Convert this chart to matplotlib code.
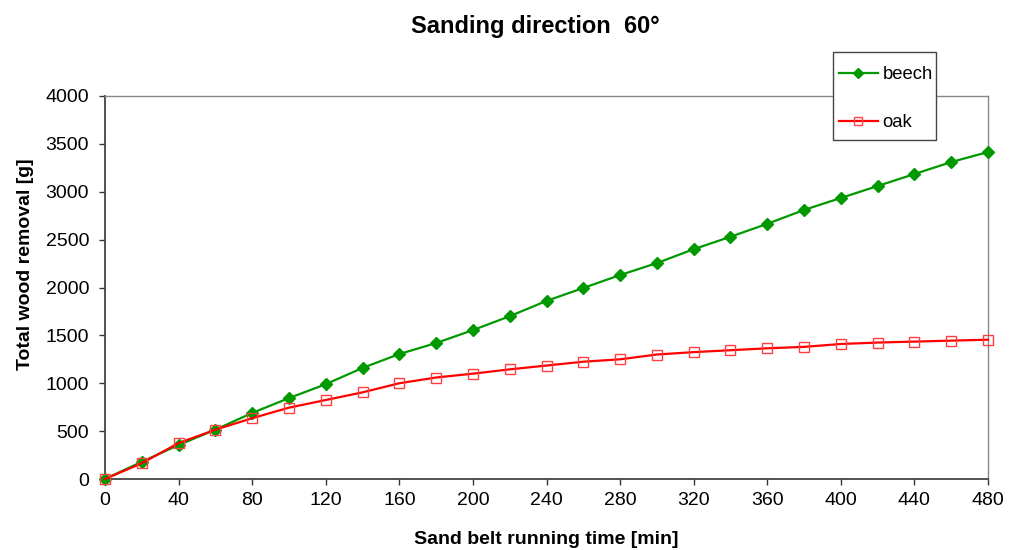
import matplotlib
matplotlib.use("Agg")
import matplotlib.pyplot as plt
from matplotlib.patches import Rectangle

time_min = [0, 20, 40, 60, 80, 100, 120, 140, 160, 180, 200, 220, 240, 260, 280, 300,
            320, 340, 360, 380, 400, 420, 440, 460, 480]
beech = [0, 180, 355, 515, 690, 845, 990, 1160, 1305, 1420, 1555, 1700, 1860, 1995, 2130,
         2255, 2400, 2530, 2665, 2810, 2935, 3060, 3185, 3310, 3415]
oak = [0, 165, 375, 515, 635, 745, 825, 905, 1000, 1060, 1100, 1145, 1185, 1225, 1250,
       1300, 1325, 1345, 1365, 1380, 1410, 1425, 1435, 1445, 1455]
x_ticks = list(range(0, 481, 40))
y_ticks = list(range(0, 4001, 500))

plt.rcParams['font.family'] = ['Liberation Sans', 'DejaVu Sans']

W, H = 1014, 550
fig = plt.figure(figsize=(W / 100, H / 100), dpi=100)
ax = fig.add_axes([105/W, 1-479/H, (988-105)/W, (479-96)/H])

l1, = ax.plot(time_min, beech, color='#009900', lw=1.6, marker='D', ms=6,
              mfc='#009900', mec='#009900', label='beech', clip_on=False, zorder=3)
l2, = ax.plot(time_min, oak, color='#ff0000', lw=1.6, marker='s', ms=7,
              mfc='none', mec='#ff4040', mew=1.0, label='oak', clip_on=False, zorder=4)

ax.set_xlim(0, 480)
ax.set_ylim(0, 4000)
ax.set_xticks(x_ticks)
ax.set_yticks(y_ticks)
ax.tick_params(direction='out', length=4.5, width=1, labelsize=14, colors='#333333',
               labelcolor='black')
ax.tick_params(axis='y', pad=7)
ax.tick_params(axis='x', pad=5)
for s in ['left', 'bottom']:
    ax.spines[s].set_color('#444444')
    ax.spines[s].set_linewidth(1.3)
for s in ['top', 'right']:
    ax.spines[s].set_color('#888888')
    ax.spines[s].set_linewidth(1.0)

ax.set_xlabel('Sand belt running time [min]', fontsize=14, fontweight='bold', labelpad=15.5)
ax.set_ylabel('Total wood removal [g]', fontsize=14, fontweight='bold', va='center')
ax.yaxis.set_label_coords((26 - 105) / 883, (479 - 264) / 383)
fig.text(535/W, 1-27/H, 'Sanding direction  60°', fontsize=17, fontweight='bold',
         ha='center', va='center')

# legend box
fig.patches.append(Rectangle((833/W, 1-140/H), (936-833)/W, (140-52)/H,
                             transform=fig.transFigure, facecolor='white',
                             edgecolor='#444444', lw=1.0, zorder=5))
leg = fig.legend(handles=[l1, l2], loc='upper left',
                 bbox_to_anchor=(839/W, 1-66/H), fontsize=13.3, frameon=False,
                 labelspacing=1.7, handlelength=2.1, handletextpad=0.25,
                 borderpad=0, borderaxespad=0, markerscale=0.85)
leg.set_zorder(6)

fig.savefig('out.png', dpi=100)
